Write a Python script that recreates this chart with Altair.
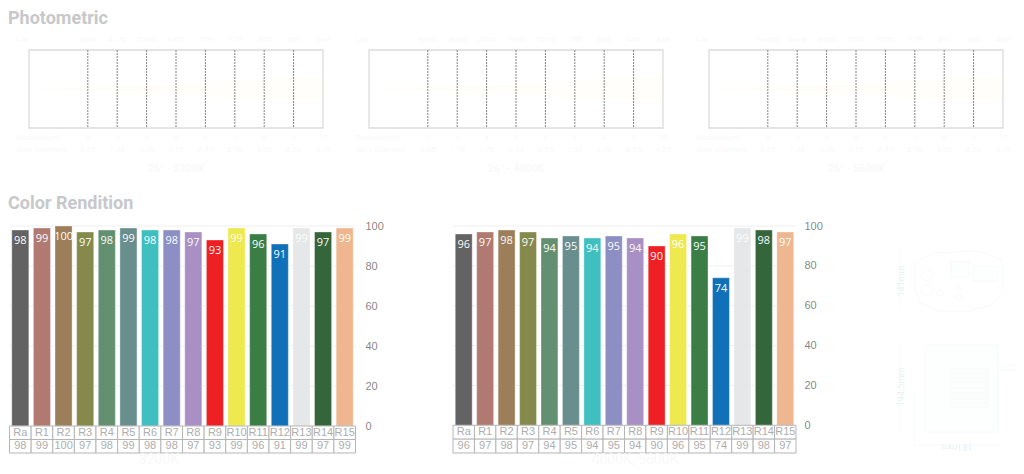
import altair as alt
import pandas as pd

# ---- data ----
distance = [2, 3, 4, 5, 6, 7, 8, 9, 10]
spot = [0.85, 1.28, 1.70, 2.13, 2.55, 2.98, 3.40, 3.83, 4.25]
spot_labels = ["0.85", "1.28", "1.70", "2.13", "2.55", "2.98", "3.40", "3.83", "4.25"]
lux_3200 = [9860, 4170, 2260, 1470, 979, 729, 562, 451, 349]
lux_4000 = [9890, 4040, 2260, 1690, 1010, 735, 565, 450, 349]
lux_5600 = [10400, 6410, 3450, 1530, 1050, 779, 597, 483, 406]

cats = ["Ra", "R1", "R2", "R3", "R4", "R5", "R6", "R7", "R8", "R9", "R10", "R11", "R12", "R13", "R14", "R15"]
cri_3200 = [98, 99, 100, 97, 98, 99, 98, 98, 97, 93, 99, 96, 91, 99, 97, 99]
cri_mixed = [96, 97, 98, 97, 94, 95, 94, 95, 94, 90, 96, 95, 74, 99, 98, 97]
bar_colors = ["#636363", "#b07a70", "#9c7e5a", "#858a4c", "#629070", "#688e8e", "#3fbfbf", "#8c8ec4",
              "#a88fc4", "#ef2024", "#ede94e", "#3a7d45", "#1070b8", "#e6e7e8", "#35653a", "#eeb78f"]
y_ticks = [0, 20, 40, 60, 80, 100]

TITLE = "#c6c8ca"
FAINT = "#f9f9f9"
LINE = "#f8fafa"
DIM = "#e8f2f2"
SANS = "Liberation Sans"
OX, OY = 8, 8  # page margin


def rx(a, b):
    return [a - OX, b - OX]


def ry(bottom, top):
    return [bottom - OY, top - OY]


def label(text, x, y, **kw):
    return alt.Chart(pd.DataFrame({"t": [text]})).mark_text(opacity=0.99, **kw).encode(
        x=alt.value(x - OX), y=alt.value(y - OY), text="t:N")


def photo(lux, caption, left):
    xs = alt.Scale(domain=[0, 10], range=rx(left, left + 294))
    ys = alt.Scale(domain=[-6.5, 6.5], range=ry(128, 50))
    nox = alt.X("d:Q", scale=xs, axis=None)
    df = pd.DataFrame({"d": distance, "spot": spot, "sl": spot_labels, "lux": lux})
    beam = pd.DataFrame({"d": [0] + distance, "lo": [0] + [-s / 2 for s in spot], "hi": [0] + [s / 2 for s in spot]})
    frame = pd.DataFrame({"a": [0], "b": [10], "lo": [-6.5], "hi": [6.5]})
    out = [
        alt.Chart(beam).mark_area(color="#fffefa").encode(
            x=nox, y=alt.Y("lo:Q", scale=ys, axis=None), y2="hi:Q"),
        alt.Chart(frame).mark_rect(fill="#ffffff", fillOpacity=0, stroke="#dcdcdc", strokeWidth=1.3).encode(
            x=alt.X("a:Q", scale=xs, axis=None), x2="b:Q", y=alt.Y("lo:Q", scale=ys, axis=None), y2="hi:Q"),
        alt.Chart(df[df.d < 10]).mark_rule(color="#808080", strokeWidth=1, strokeDash=[2, 1]).encode(
            x=nox, y=alt.value(50 - OY), y2=alt.value(128 - OY)),
    ]
    base = dict(font="Roboto", fontSize=8, color=FAINT)
    for field, page_y in (("lux:N", 40), ("d:N", 138), ("sl:N", 150)):
        out.append(alt.Chart(df).mark_text(opacity=0.99, **base).encode(x=nox, y=alt.value(page_y - OY), text=field))
    for name, page_y in (("Lux", 40), ("Distance(m)", 138), ("Spot Diam(m)", 150)):
        out.append(label(name, left - 13, page_y, align="left", **base))
    out.append(label(caption, left + 147, 169, font="Roboto", fontWeight="bold", fontSize=10.5, color=FAINT))
    return out


def cri(values, caption, left, right, bottom, cap_x, label_pad, axis_offset):
    df = pd.DataFrame({"c": cats, "v": values})
    xb = alt.X("c:N", sort=cats, axis=None,
               scale=alt.Scale(domain=cats, range=rx(left, right), paddingInner=0.21, paddingOuter=0.105))
    ys = alt.Scale(domain=[0, 100], range=ry(bottom, 226))
    grid = alt.Chart(pd.DataFrame({"v": y_ticks[1:]})).mark_rule(color="#efefef", strokeWidth=1).encode(
        x=alt.value(left - OX), x2=alt.value(right - OX), y=alt.Y("v:Q", scale=ys, axis=None))
    bars = alt.Chart(df).mark_bar(stroke="#ffffff", strokeOpacity=0.35, strokeWidth=1).encode(
        x=xb,
        y=alt.Y("v:Q", scale=ys,
                axis=alt.Axis(orient="right", offset=axis_offset, values=y_ticks, title=None, domain=False,
                              ticks=False, grid=False, labelPadding=label_pad, labelFont=SANS, labelFontSize=11,
                              labelColor="#7f7f7f", labelOpacity=0.99)),
        color=alt.Color("c:N", scale=alt.Scale(domain=cats, range=bar_colors), legend=None))
    txt = alt.Chart(df).mark_text(font="Open Sans", fontSize=11, color="#ffffff", dy=11, opacity=0.99).encode(
        x=xb, y=alt.Y("v:Q", scale=ys, axis=None), text="v:N")

    cells = pd.concat([
        pd.DataFrame({"c": cats, "row": "name", "t": cats}),
        pd.DataFrame({"c": cats, "row": "value", "t": [str(v) for v in values]}),
    ])
    xt = alt.X("c:N", sort=cats, axis=None,
               scale=alt.Scale(domain=cats, range=rx(left, right), paddingInner=0, paddingOuter=0))
    yt = alt.Y("row:N", axis=None,
               scale=alt.Scale(domain=["name", "value"], range=[bottom - OY, 453 - OY], paddingInner=0, paddingOuter=0))
    table = alt.Chart(cells).mark_rect(fill="#ffffff", stroke="#b5b5b5", strokeWidth=1).encode(x=xt, y=yt)
    names = alt.Chart(cells).mark_text(font=SANS, fontSize=11, color="#adadad", opacity=0.99).encode(
        x=xt, y=yt, text="t:N")
    capt = label(caption, cap_x, 460, font="Roboto", fontSize=14, color="#f9f9f9")
    return [grid, bars, txt, table, names, capt]


# ---- faint dimension drawing (values read in picture pixels) ----
outline_x = [915, 935, 975, 1000, 1003, 1003, 992, 970, 940, 920, 915, 915]
outline_y = [262, 253, 251, 258, 265, 292, 305, 311, 311, 303, 290, 262]
box_x1 = [973, 951, 925, 950, 950, 950, 950, 950, 950, 950, 950, 1000]
box_x2 = [997, 969, 998, 988, 988, 988, 988, 988, 988, 988, 988, 1022]
box_y1 = [266, 262, 345, 369, 374, 379, 384, 389, 394, 399, 404, 365]
box_y2 = [281, 277, 432, 372, 377, 382, 387, 392, 397, 402, 407, 370]
hole_x = [927, 927, 940, 959, 959]
hole_y = [275, 290, 293, 288, 297]
hole_s = [130, 130, 40, 20, 30]
dim_x1 = [900, 900, 914, 914]
dim_x2 = [900, 900, 998, 914]
dim_y1 = [246, 343, 445, 390]
dim_y2 = [311, 433, 445, 445]
dim_text = ["141mm", "194.5mm", "181mm"]
dim_text_x = [900.5, 900.5, 957]
dim_text_y = [281, 387, 447]
dim_text_angle = [270, 270, 180]


def drawing():
    xs = alt.Scale(domain=[OX, 1016], range=[0, 1008])
    ys = alt.Scale(domain=[OY, 466], range=[0, 458])
    X = lambda f: alt.X(f, scale=xs, axis=None)
    Y = lambda f: alt.Y(f, scale=ys, axis=None)
    out = [
        alt.Chart(pd.DataFrame({"a": box_x1, "b": box_x2, "c": box_y1, "d": box_y2})).mark_rect(
            fill="#fdfefe", stroke=LINE, strokeWidth=1).encode(x=X("a:Q"), x2="b:Q", y=Y("c:Q"), y2="d:Q"),
        alt.Chart(pd.DataFrame({"x": outline_x, "y": outline_y, "o": range(len(outline_x))})).mark_line(
            color=LINE, strokeWidth=1).encode(x=X("x:Q"), y=Y("y:Q"), order="o:Q"),
        alt.Chart(pd.DataFrame({"x": hole_x, "y": hole_y, "s": hole_s})).mark_point(
            color=LINE, strokeWidth=1).encode(x=X("x:Q"), y=Y("y:Q"), size=alt.Size("s:Q", scale=None, legend=None)),
        alt.Chart(pd.DataFrame({"a": dim_x1, "b": dim_x2, "c": dim_y1, "d": dim_y2})).mark_rule(
            color=LINE, strokeWidth=1).encode(x=X("a:Q"), x2="b:Q", y=Y("c:Q"), y2="d:Q"),
    ]
    for x, y, t, a in zip(dim_text_x, dim_text_y, dim_text, dim_text_angle):
        out.append(label(t, x, y, font="Roboto", fontSize=9, color=DIM, angle=a))
    return out


title_style = dict(font="Roboto", fontWeight="bold", fontSize=18, color=TITLE, align="left", baseline="middle")
layers = [label("Photometric", OX, 19, **title_style), label("Color Rendition", OX, 204, **title_style)]
layers += photo(lux_3200, "26° - 3200K", 29)
layers += photo(lux_4000, "26° - 4000K", 369)
layers += photo(lux_5600, "26° - 5600K", 709)
layers += cri(cri_3200, "3200K", 9.5, 355.5, 426, 159, 9, -660)
layers += cri(cri_mixed, "4000K, 5600K", 453, 796, 425.3, 635, 8, -220)
layers += drawing()

chart = alt.layer(*layers).resolve_scale(x="independent", y="independent", size="independent").properties(
    width=1008, height=458, padding=0, background="#ffffff",
    autosize=alt.AutoSizeParams(type="none"),
).configure_view(stroke=None)

chart.save("out.html", embed_options={"renderer": "svg", "actions": False})
